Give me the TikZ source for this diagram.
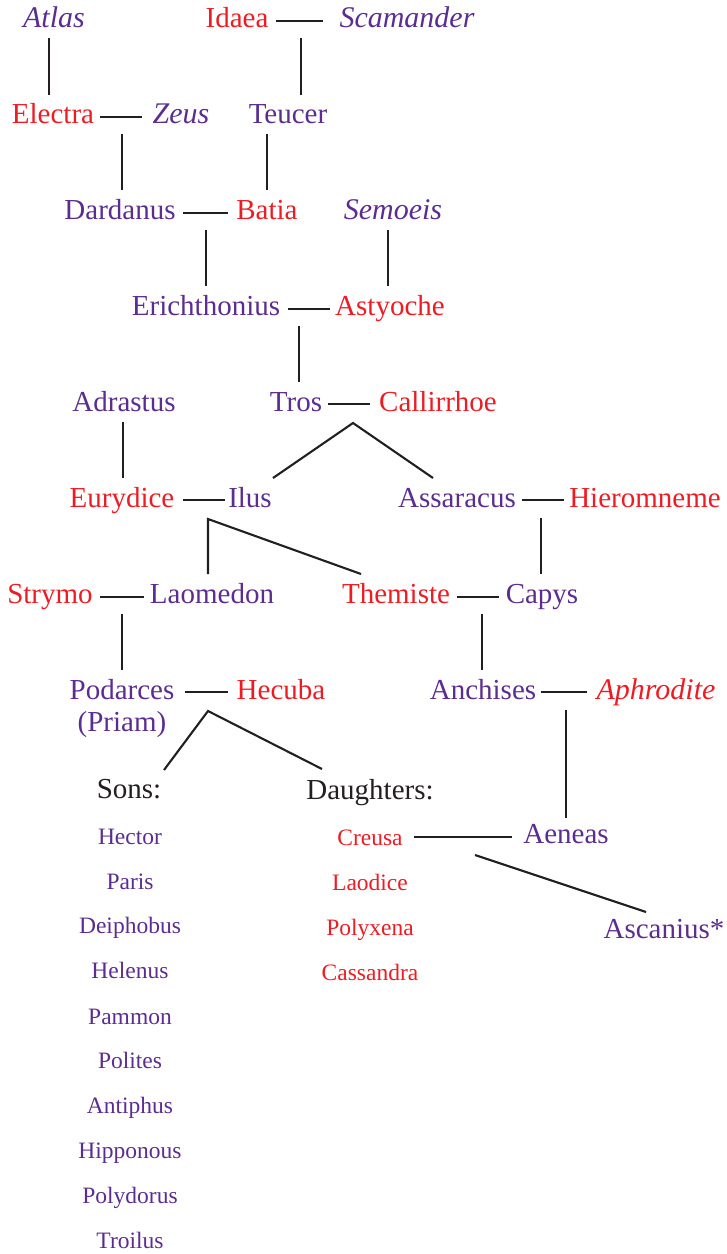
\documentclass[tikz,border=0pt]{standalone}
\usepackage{fontspec}
\setmainfont{Liberation Serif}
\usetikzlibrary{calc}
\definecolor{tpurple}{HTML}{5B2D90}
\definecolor{tred}{HTML}{ED1C24}
\definecolor{tline}{HTML}{231F20}
\begin{document}
\begin{tikzpicture}[x=1pt,y=-1pt,
  nm/.style={inner sep=0pt, anchor=base, font=\fontsize{29}{33}\selectfont},
  pu/.style={nm, text=tpurple},
  rd/.style={nm, text=tred},
  bk/.style={nm, text=tline},
  ital/.style={font=\fontsize{30}{34}\selectfont\itshape},
  sm/.style={font=\fontsize{23.5}{28}\selectfont},
  link/.style={draw=tline, line width=2.1pt}]
\useasboundingbox (0,0) rectangle (727,1254);
% generation 1
\node[pu,ital] (atlas) at (54,27) {Atlas};
\node[rd] (idaea) at (237,27) {Idaea};
\node[pu,ital] (scamander) at (407,27) {Scamander};
% generation 2
\node[rd] (electra) at (53,123) {Electra};
\node[pu,ital] (zeus) at (181,123) {Zeus};
\node[pu] (teucer) at (288,123) {Teucer};
% generation 3
\node[pu] (dardanus) at (120,219) {Dardanus};
\node[rd] (batia) at (267,219) {Batia};
\node[pu,ital] (semoeis) at (393,219) {Semoeis};
% generation 4
\node[pu] (erich) at (206,315) {Erichthonius};
\node[rd] (astyoche) at (390,315) {Astyoche};
% generation 5
\node[pu] (adrastus) at (124,411) {Adrastus};
\node[pu] (tros) at (296,411) {Tros};
\node[rd] (callirrhoe) at (438,411) {Callirrhoe};
% generation 6
\node[rd] (eurydice) at (122,507) {Eurydice};
\node[pu] (ilus) at (250,507) {Ilus};
\node[pu] (assaracus) at (457,507) {Assaracus};
\node[rd] (hieromneme) at (645,507) {Hieromneme};
% generation 7
\node[rd] (strymo) at (50,603) {Strymo};
\node[pu] (laomedon) at (212,603) {Laomedon};
\node[rd] (themiste) at (396,603) {Themiste};
\node[pu] (capys) at (542,603) {Capys};
% generation 8
\node[pu] (podarces) at (122,699) {Podarces};
\node[pu] (priam) at (122,731) {(Priam)};
\node[rd] (hecuba) at (281,699) {Hecuba};
\node[pu] (anchises) at (483,699) {Anchises};
\node[rd,ital] (aphrodite) at (656,699) {Aphrodite};
% generation 9
\node[bk] (sons) at (129,798) {Sons:};
\node[bk] (daughters) at (370,799) {Daughters:};
\node[pu] (aeneas) at (566,843) {Aeneas};
\node[pu] (ascanius) at (664,938) {Ascanius*};
% sons
\node[pu,sm] (hector) at (130,844) {Hector};
\node[pu,sm] (paris) at (130,889) {Paris};
\node[pu,sm] (deiphobus) at (130,933) {Deiphobus};
\node[pu,sm] (helenus) at (130,978) {Helenus};
\node[pu,sm] (pammon) at (130,1024) {Pammon};
\node[pu,sm] (polites) at (130,1068) {Polites};
\node[pu,sm] (antiphus) at (130,1113) {Antiphus};
\node[pu,sm] (hipponous) at (130,1158) {Hipponous};
\node[pu,sm] (polydorus) at (130,1203) {Polydorus};
\node[pu,sm] (troilus) at (130,1248) {Troilus};
% daughters
\node[rd,sm] (creusa) at (370,845) {Creusa};
\node[rd,sm] (laodice) at (370,890) {Laodice};
\node[rd,sm] (polyxena) at (370,935) {Polyxena};
\node[rd,sm] (cassandra) at (370,980) {Cassandra};

% couple lines (node to node)
\draw[link] ($(idaea.base east)+(7,-6)$) -- ($(scamander.base west)+(-16,-6)$);
\draw[link] ($(electra.base east)+(6,-6)$) -- ($(zeus.base west)+(-10,-6)$);
\draw[link] ($(dardanus.base east)+(7,-6)$) -- ($(batia.base west)+(-8,-6)$);
\draw[link] ($(erich.base east)+(8,-6)$) -- ($(astyoche.base west)+(-5,-6)$);
\draw[link] ($(tros.base east)+(6,-7)$) -- ($(callirrhoe.base west)+(-9,-7)$);
\draw[link] ($(eurydice.base east)+(8,-7)$) -- ($(ilus.base west)+(-3,-7)$);
\draw[link] ($(assaracus.base east)+(6,-7)$) -- ($(hieromneme.base west)+(-5,-7)$);
\draw[link] ($(strymo.base east)+(7,-6)$) -- ($(laomedon.base west)+(-6,-6)$);
\draw[link] ($(themiste.base east)+(7,-6)$) -- ($(capys.base west)+(-7,-6)$);
\draw[link] ($(podarces.base east)+(10,-7)$) -- ($(hecuba.base west)+(-9,-7)$);
\draw[link] ($(anchises.base east)+(5,-7)$) -- ($(aphrodite.base west)+(-9,-7)$);
\draw[link] ($(creusa.base east)+(11,-8)$) -- ($(aeneas.base west)+(-11,-6)$);

% descent points
\coordinate (v1a) at (49,38);   \coordinate (v1b) at (49,95);
\coordinate (v2a) at (301,38);  \coordinate (v2b) at (301,95);
\coordinate (v3a) at (122,134); \coordinate (v3b) at (122,190);
\coordinate (v4a) at (267,134); \coordinate (v4b) at (267,190);
\coordinate (v5a) at (206,230); \coordinate (v5b) at (206,286);
\coordinate (v6a) at (388,230); \coordinate (v6b) at (388,286);
\coordinate (v7a) at (299,326); \coordinate (v7b) at (299,382);
\coordinate (v8a) at (123,422); \coordinate (v8b) at (123,478);
\coordinate (f1) at (353,423); \coordinate (f1l) at (273,478); \coordinate (f1r) at (433,478);
\coordinate (f2) at (208,519); \coordinate (f2l) at (208,574); \coordinate (f2r) at (361,574);
\coordinate (v9a) at (541,518); \coordinate (v9b) at (541,574);
\coordinate (v10a) at (122,614); \coordinate (v10b) at (122,670);
\coordinate (v11a) at (482,614); \coordinate (v11b) at (482,670);
\coordinate (f3) at (208,711); \coordinate (f3l) at (164,770); \coordinate (f3r) at (322,769);
\coordinate (v12a) at (566,710); \coordinate (v12b) at (566,818);
\coordinate (d1a) at (475,855); \coordinate (d1b) at (646,912);

\draw[link] (v1a) -- (v1b);
\draw[link] (v2a) -- (v2b);
\draw[link] (v3a) -- (v3b);
\draw[link] (v4a) -- (v4b);
\draw[link] (v5a) -- (v5b);
\draw[link] (v6a) -- (v6b);
\draw[link] (v7a) -- (v7b);
\draw[link] (v8a) -- (v8b);
\draw[link] (f1l) -- (f1) -- (f1r);
\draw[link] (f2l) -- (f2) -- (f2r);
\draw[link] (v9a) -- (v9b);
\draw[link] (v10a) -- (v10b);
\draw[link] (v11a) -- (v11b);
\draw[link] (f3l) -- (f3) -- (f3r);
\draw[link] (v12a) -- (v12b);
\draw[link] (d1a) -- (d1b);
\end{tikzpicture}
\end{document}
